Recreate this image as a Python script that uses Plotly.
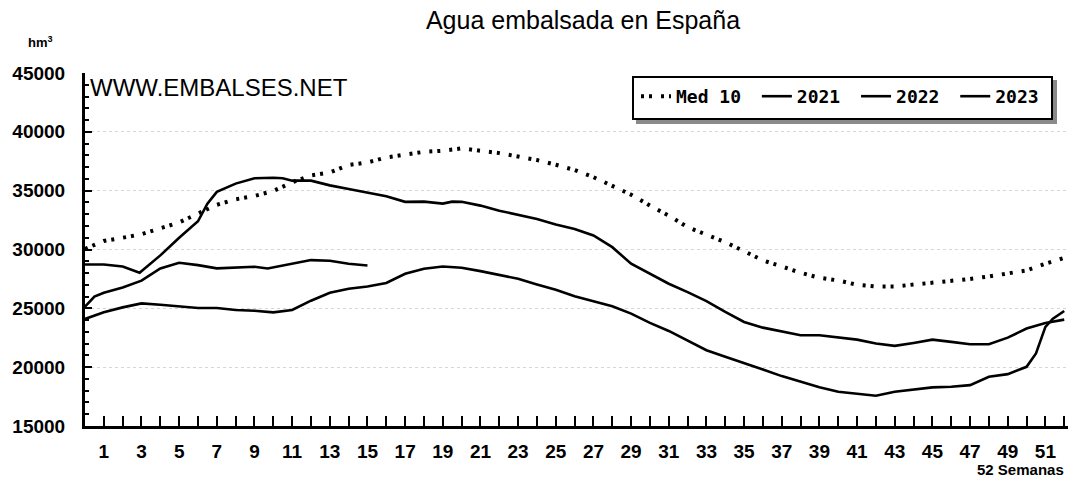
import plotly.graph_objects as go

# ---------------- data ----------------
weeks_med10 = list(range(0, 53))
vals_med10 = [30050, 30730, 31000, 31300, 31800, 32300, 33050, 33800, 34270, 34550,
              34970, 35700, 36300, 36550, 37180, 37400, 37820, 38050, 38300, 38390,
              38590, 38390, 38190, 37900, 37600, 37200, 36750, 36150, 35420, 34660,
              33730, 32880, 31900, 31240, 30620, 29860, 29070, 28560, 28020, 27600,
              27370, 27000, 26860, 26860, 27000, 27180, 27350, 27500, 27710, 27990,
              28220, 28790, 29290]

weeks_2021 = [0, 1, 2, 2.9, 4, 5, 6, 6.5, 7, 8, 9, 10, 10.5, 11, 12, 13, 14, 15, 16, 17,
              18, 19, 19.5, 20, 21, 22, 23, 24, 25, 26, 27, 28, 29, 30, 31, 32, 33, 34,
              35, 36, 37, 38, 39, 40, 41, 42, 43, 44, 45, 46, 47, 48, 49, 50, 51, 52]
vals_2021 = [28730, 28730, 28550, 28020, 29500, 31000, 32400, 33900, 34900, 35600, 36050,
             36100, 36050, 35850, 35850, 35450, 35140, 34860, 34520, 34050, 34070, 33900,
             34070, 34050, 33730, 33300, 32970, 32600, 32120, 31750, 31190, 30200, 28790,
             27940, 27090, 26380, 25620, 24690, 23840, 23360, 23050, 22710, 22710, 22500,
             22340, 22010, 21810, 22060, 22340, 22150, 21950, 21950, 22510, 23280, 23760,
             24040]

weeks_2022 = list(range(0, 51)) + [50.5, 51, 51.4, 52]
vals_2022 = [24100, 24660, 25080, 25420, 25310, 25200, 25030, 25030, 24860, 24800,
             24660, 24860, 25650, 26330, 26670, 26860, 27150, 27940, 28360, 28560,
             28450, 28160, 27850, 27510, 27030, 26580, 26020, 25580, 25170, 24550,
             23760, 23080, 22290, 21440, 20880, 20370, 19800, 19240, 18760, 18300,
             17910, 17770, 17570, 17910, 18110, 18280, 18330, 18470, 19180, 19410,
             20030, 21160, 23420, 24120, 24770]

weeks_2023 = [0, 0.5, 1, 2, 3, 4, 5, 6, 7, 8, 9, 9.7, 10.4, 11, 12, 13, 14, 15]
vals_2023 = [25140, 26000, 26330, 26780, 27350, 28390, 28870, 28670, 28400, 28470,
             28530, 28390, 28590, 28810, 29100, 29050, 28790, 28640]

series_names = ["Med 10", "2021", "2022", "2023"]
x_tick_values = list(range(1, 52, 2))
x_tick_labels = [str(v) for v in x_tick_values]
y_tick_values = [15000, 20000, 25000, 30000, 35000, 40000, 45000]
y_tick_labels = [str(v) for v in y_tick_values]

# ---------------- figure ----------------
NB = "\u00a0"
fig = go.Figure()
fig.add_trace(go.Scatter(x=weeks_med10, y=vals_med10, mode="lines", name=series_names[0] + NB,
                         line=dict(color="black", width=4, dash="3px,5px,3px,9px")))
fig.add_trace(go.Scatter(x=weeks_2021, y=vals_2021, mode="lines", name=series_names[1] + NB,
                         line=dict(color="black", width=2.6)))
fig.add_trace(go.Scatter(x=weeks_2022, y=vals_2022, mode="lines", name=series_names[2] + NB,
                         line=dict(color="black", width=2.6)))
fig.add_trace(go.Scatter(x=weeks_2023, y=vals_2023, mode="lines", name=series_names[3],
                         line=dict(color="black", width=2.6)))

W, H = 1068, 479
L, R, T, B = 85, 0, 73, 53
pw, ph = W - L - R, H - T - B

def px_x(x):
    return (x - L) / pw

def px_y(y):
    return (H - B - y) / ph

tick_font = dict(family="Liberation Sans, Arial, sans-serif", size=19, color="black", weight="bold")

fig.update_layout(
    width=W, height=H,
    margin=dict(l=L, r=R, t=T, b=B),
    paper_bgcolor="white", plot_bgcolor="white",
    title=dict(text="Agua embalsada en España", x=583 / W, xanchor="center",
               xref="container", y=1 - 20 / H, yanchor="middle", yref="container",
               font=dict(family="Liberation Sans, Arial, sans-serif", size=25, color="black")),
    showlegend=True,
    legend=dict(orientation="h", x=px_x(636), xanchor="left", y=px_y(78), yanchor="top",
                bgcolor="rgba(0,0,0,0)", borderwidth=0,
                font=dict(family="DejaVu Sans Mono, monospace", size=18, color="black", weight="bold"),
                itemwidth=30, tracegroupgap=0),
    xaxis=dict(range=[0, 52.2], showgrid=False, zeroline=False,
               showline=True, linecolor="black", linewidth=3,
               tickmode="array", tickvals=x_tick_values, ticktext=x_tick_labels,
               ticks="inside", ticklen=10, tickwidth=2, tickcolor="black",
               ticklabelstandoff=6, tickfont=tick_font,
               minor=dict(dtick=1, tick0=0, ticks="inside", ticklen=10, tickwidth=2,
                          tickcolor="black", showgrid=False)),
    yaxis=dict(range=[15000, 45000], zeroline=False,
               showline=True, linecolor="black", linewidth=3,
               tickmode="array", tickvals=y_tick_values, ticktext=y_tick_labels,
               ticks="inside", ticklen=7, tickwidth=2, tickcolor="black",
               ticklabelstandoff=13, tickfont=tick_font,
               showgrid=True, gridcolor="#d6d6d6", gridwidth=1, griddash="dot",
               minor=dict(dtick=1000, tick0=15000, ticks="inside", ticklen=4, tickwidth=2,
                          tickcolor="black", showgrid=False)),
    shapes=[
        # legend shadow
        dict(type="rect", xref="paper", yref="paper", layer="above",
             x0=px_x(636), x1=px_x(1057), y0=px_y(124), y1=px_y(80),
             fillcolor="#8a8a8a", line=dict(width=0)),
        # legend box
        dict(type="rect", xref="paper", yref="paper", layer="above",
             x0=px_x(633), x1=px_x(1052), y0=px_y(119), y1=px_y(77),
             fillcolor="white", line=dict(color="black", width=2)),
    ],
    annotations=[
        dict(text="WWW.EMBALSES.NET", xref="paper", yref="paper", x=px_x(88), y=px_y(87),
             xanchor="left", yanchor="middle", showarrow=False,
             font=dict(family="Liberation Sans, Arial, sans-serif", size=24, color="black")),
        dict(text="hm<sup>3</sup>", xref="paper", yref="paper", x=px_x(40), y=px_y(42),
             xanchor="center", yanchor="middle", showarrow=False,
             font=dict(family="Liberation Sans, Arial, sans-serif", size=13, color="black", weight="bold")),
        dict(text="52 Semanas", xref="paper", yref="paper", x=px_x(1066), y=px_y(469),
             xanchor="right", yanchor="middle", showarrow=False,
             font=dict(family="Liberation Sans, Arial, sans-serif", size=15, color="black", weight="bold")),
    ],
)

fig.write_html("out.html", config={"displayModeBar": False},
               post_script="document.body.style.margin='0';document.body.style.overflow='hidden';")
